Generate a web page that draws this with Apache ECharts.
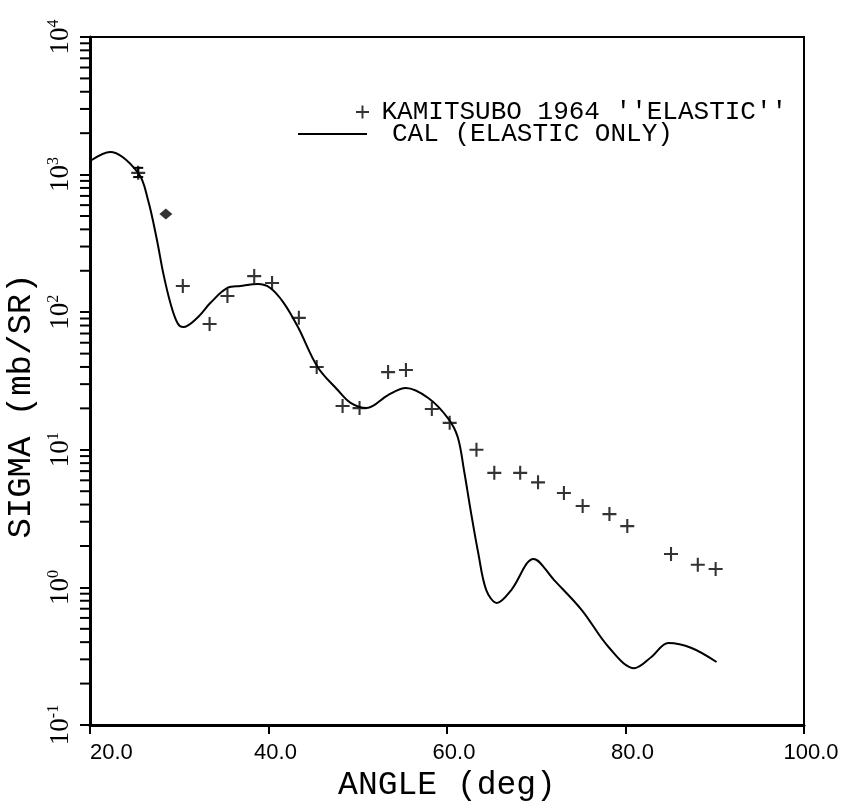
<!DOCTYPE html>
<html><head><meta charset="utf-8">
<script src="https://cdn.jsdelivr.net/npm/echarts@6/dist/echarts.min.js"></script>
<style>html,body{margin:0;padding:0;background:#fff}#c{width:843px;height:803px}</style>
</head><body><div id="c"></div>
<script>
// ---- data ----
const xTicks = [20, 40, 60, 80, 100];
const yTicks = [0.1, 1, 10, 100, 1000, 10000];
const yMinorTicks = [0.2,0.3,0.4,0.5,0.6,0.7,0.8,0.9, 2,3,4,5,6,7,8,9, 20,30,40,50,60,70,80,90,
  200,300,400,500,600,700,800,900, 2000,3000,4000,5000,6000,7000,8000,9000];

const expName = "KAMITSUBO 1964 ''ELASTIC''";
const expAngle = [25.4, 28.5, 30.4, 33.4, 35.4, 38.4, 40.4, 43.4, 45.4, 48.3, 50.2, 53.4, 55.4,
  58.3, 60.3, 63.3, 65.3, 68.2, 70.2, 73.1, 75.2, 78.2, 80.2, 85.1, 88.1, 90.1];
const expSigma = [1030, 518, 155, 82, 131, 183, 163, 91, 40, 20.8, 20.1, 36.7, 38,
  19.8, 15.7, 10, 6.8, 6.8, 5.8, 4.85, 3.9, 3.41, 2.79, 1.75, 1.46, 1.36];
const filledIndex = 1;

const errAngle = [25.4];
const errLow = [960];
const errHigh = [1120];

const calName = 'CAL (ELASTIC ONLY)';
const calAngle = [20.2, 22.25, 25.4, 26.5, 27.5, 28.2, 29.0, 29.8, 30.45, 32.0, 33.5, 35.4, 36.85,
  38.8, 40.2, 41.7, 43.3, 45.5, 47.75, 49.2, 51.0, 53.4, 55.4, 57.9, 60.1, 61.2, 61.9, 62.7, 63.5,
  64.4, 65.6, 67.2, 69.7, 72.0, 75.1, 78.1, 81.0, 82.9, 84.8, 87.4, 90.2];
const calSigma = [1277, 1459, 1028, 653, 335, 193, 117, 83.5, 78, 90.8, 117, 150, 155,
  160, 150, 117, 78, 40, 27.2, 21.9, 20.1, 25, 28.1, 23.8, 17.0, 12.4, 7.13, 3.47, 1.78,
  0.957, 0.771, 0.957, 1.61, 1.13, 0.685, 0.369, 0.259, 0.312, 0.394, 0.363, 0.287];

// ---- chart ----
const PLUS = 'path://M8.5,0H11.5V8.5H20V11.5H11.5V20H8.5V11.5H0V8.5H8.5Z';
const chart = echarts.init(document.getElementById('c'));
const xMin = xTicks[0], xMax = xTicks[xTicks.length - 1];
const xLabelFont = {fontFamily: 'Liberation Sans', fontSize: 22, color: '#000'};

const option = {
  animation: false,
  backgroundColor: '#fff',
  grid: {left: 90, right: 39, top: 37, bottom: 78, show: true, borderColor: '#000', borderWidth: 2,
    containLabel: false, outerBoundsMode: 'none'},
  legend: [
    {data: [{name: expName, icon: PLUS}], left: 351, top: 94, itemWidth: 20, itemHeight: 13,
     selectedMode: false, itemStyle: {color: '#000'},
     textStyle: {fontFamily: 'Liberation Mono', fontSize: 26, color: '#000', padding: [0, 0, 0, 4]}},
    {data: [{name: calName, icon: 'rect'}], left: 293, top: 116, itemWidth: 69, itemHeight: 2,
     selectedMode: false, itemStyle: {color: '#000'},
     textStyle: {fontFamily: 'Liberation Mono', fontSize: 26, color: '#000', padding: [0, 0, 0, 20]}}
  ],
  xAxis: {
    type: 'value', min: xMin, max: xMax, interval: 20,
    axisLine: {show: true, lineStyle: {color: '#000', width: 3}},
    axisTick: {show: true, length: 9, lineStyle: {color: '#000', width: 2}},
    axisLabel: {margin: 17, color: '#000', fontFamily: 'Liberation Sans', fontSize: 22,
      alignMinLabel: 'left',
      formatter: v => (v === xMin ? '{m|' : '{n|') + v.toFixed(1) + '}',
      rich: {m: Object.assign({}, xLabelFont), n: Object.assign({padding: [0, 0, 0, 14]}, xLabelFont)}},
    splitLine: {show: false},
    name: 'ANGLE (deg)', nameLocation: 'middle', nameGap: 42,
    nameTextStyle: {fontFamily: 'Liberation Mono', fontSize: 33, color: '#000'}
  },
  yAxis: {
    type: 'log', logBase: 10, min: yTicks[0], max: yTicks[yTicks.length - 1],
    axisLine: {show: true, lineStyle: {color: '#000', width: 3}},
    axisTick: {show: true, length: 10, lineStyle: {color: '#000', width: 2}},
    axisLabel: {
      margin: 16, rotate: 90, color: '#000', fontSize: 27, fontFamily: 'Liberation Serif',
      formatter: v => '{a|10}{s|' + Math.round(Math.log10(v)) + '}',
      rich: {
        a: {fontFamily: 'Liberation Serif', fontSize: 27, color: '#000', lineHeight: 28, verticalAlign: 'bottom'},
        s: {fontFamily: 'Liberation Serif', fontSize: 16, color: '#000', lineHeight: 28, verticalAlign: 'top'}
      }
    },
    splitLine: {show: false},
    name: 'SIGMA (mb/SR)', nameLocation: 'middle', nameGap: 46,
    nameTextStyle: {fontFamily: 'Liberation Mono', fontSize: 34, color: '#000', padding: [0, 50, 0, 0]}
  },
  series: [
    {
      name: calName, type: 'line', smooth: 0.35, symbol: 'none',
      lineStyle: {color: '#000', width: 2}, itemStyle: {color: '#000'},
      data: calAngle.map((a, i) => [a, calSigma[i]]), z: 2
    },
    {
      name: expName, type: 'scatter', symbol: PLUS, symbolSize: 14,
      itemStyle: {color: '#000'},
      data: expAngle.map((a, i) => i === filledIndex
        ? {value: [a, expSigma[i]], symbol: 'diamond', symbolSize: [13, 11]}
        : [a, expSigma[i]]),
      z: 3
    },
    {
      name: 'err', type: 'custom', clip: false, z: 3,
      data: errAngle.map((a, i) => [a, errLow[i], errHigh[i]]),
      renderItem: (params, api) => {
        const lo = api.coord([api.value(0), api.value(1)]);
        const hi = api.coord([api.value(0), api.value(2)]);
        const w = 5, st = {stroke: '#000', lineWidth: 2};
        return {type: 'group', children: [
          {type: 'line', shape: {x1: lo[0], y1: lo[1], x2: hi[0], y2: hi[1]}, style: st},
          {type: 'line', shape: {x1: lo[0] - w, y1: lo[1], x2: lo[0] + w, y2: lo[1]}, style: st},
          {type: 'line', shape: {x1: hi[0] - w, y1: hi[1], x2: hi[0] + w, y2: hi[1]}, style: st}
        ]};
      }
    },
    {
      name: 'minorTicks', type: 'custom', clip: false, silent: true, z: 4,
      data: yMinorTicks.map(v => [xMin, v]),
      renderItem: (params, api) => {
        const p = api.coord([api.value(0), api.value(1)]);
        return {type: 'line', shape: {x1: p[0] - 10, y1: p[1], x2: p[0], y2: p[1]},
          style: {stroke: '#000', lineWidth: 2}};
      }
    }
  ]
};
chart.setOption(option);
</script></body></html>
